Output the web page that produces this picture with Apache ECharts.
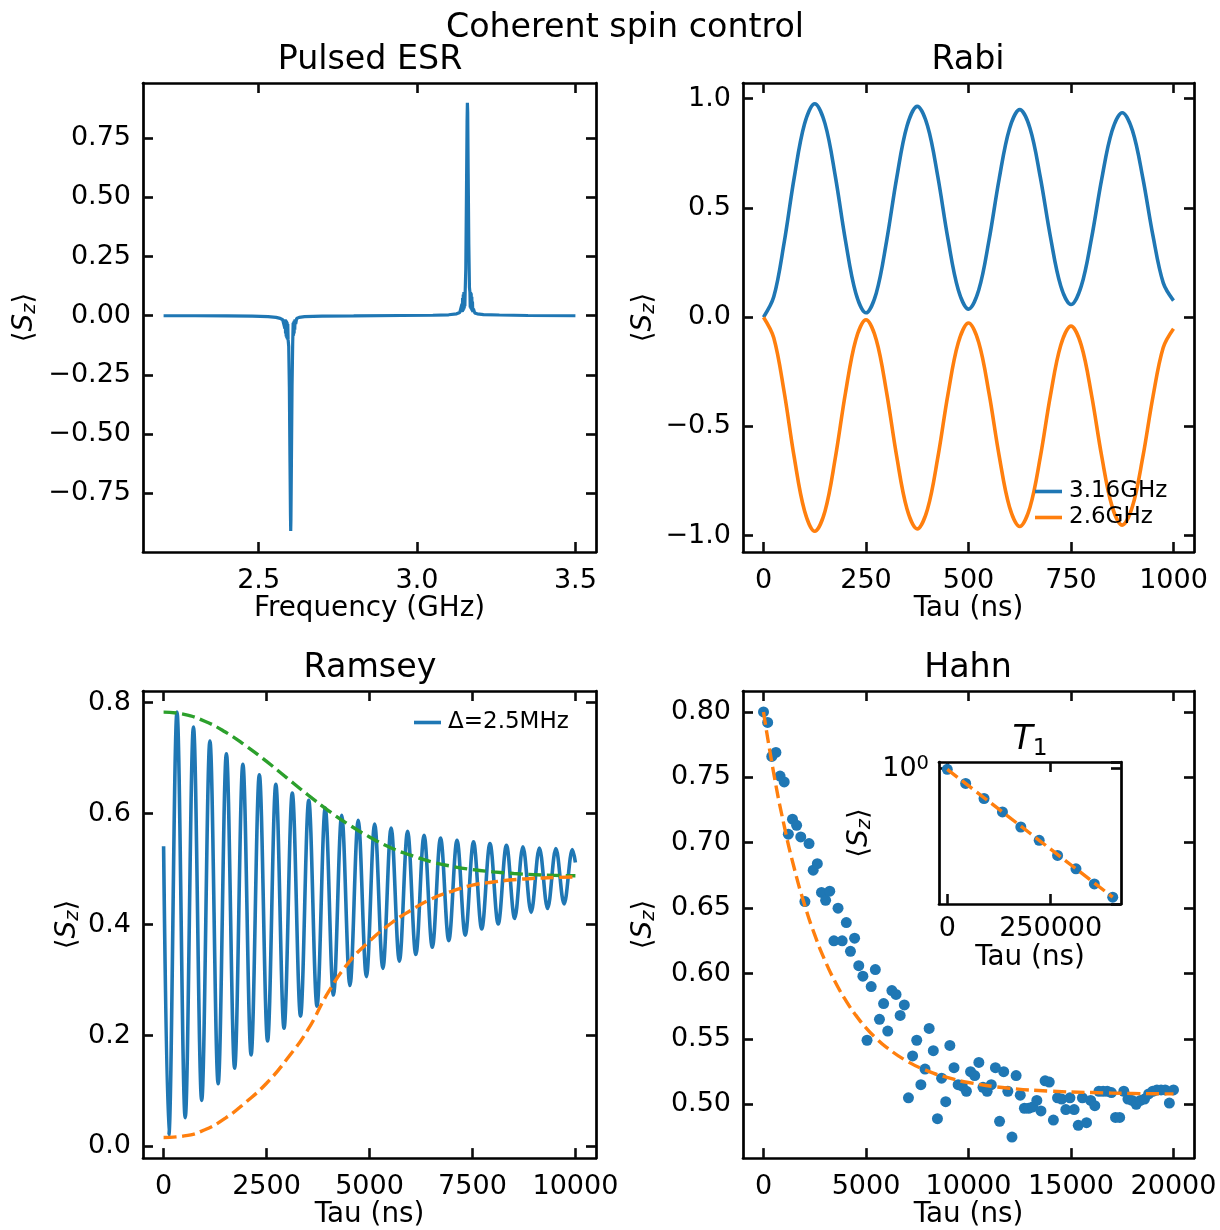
<!DOCTYPE html>
<html>
<head>
<meta charset="utf-8">
<title>Coherent spin control</title>
<script src="https://cdn.jsdelivr.net/npm/echarts@6/dist/echarts.min.js"></script>
<style>
  html, body { margin: 0; padding: 0; background: #fff; }
  #chart { width: 1220px; height: 1230px; }
</style>
</head>
<body>
<div id="chart"></div>
<script>
// ---- Pulsed ESR (frequency sweep) ----
const esrFreq = [2.20, 2.30, 2.40, 2.48, 2.53, 2.555, 2.568, 2.576, 2.581, 2.583, 2.584, 2.585, 2.586, 2.587,
  2.588, 2.589, 2.590, 2.591, 2.592, 2.593, 2.595, 2.597, 2.599, 2.6005, 2.6013, 2.602, 2.6035, 2.6055,
  2.6075, 2.609, 2.610, 2.611, 2.612, 2.613, 2.614, 2.615, 2.617, 2.620, 2.628, 2.645, 2.70, 2.80, 2.95,
  3.05, 3.10, 3.125, 3.135, 3.140, 3.142, 3.143, 3.144, 3.145, 3.146, 3.147, 3.148, 3.149, 3.150, 3.151,
  3.152, 3.154, 3.156, 3.158, 3.159, 3.160, 3.1615, 3.1635, 3.1655, 3.167, 3.168, 3.169, 3.170, 3.171,
  3.172, 3.173, 3.174, 3.175, 3.176, 3.178, 3.182, 3.19, 3.21, 3.26, 3.35, 3.50];
const esrSz = [0, 0, -0.001, -0.002, -0.004, -0.007, -0.011, -0.017, -0.025, -0.055, -0.015, -0.075, -0.018, -0.088,
  -0.022, -0.095, -0.028, -0.1, -0.035, -0.1, -0.13, -0.3, -0.62, -0.84, -0.91, -0.86, -0.62, -0.3,
  -0.12, -0.03, -0.085, -0.025, -0.075, -0.02, -0.06, -0.015, -0.035, -0.012, -0.007, -0.004, -0.002, -0.001, 0.001,
  0.002, 0.004, 0.008, 0.014, 0.02, 0.05, 0.015, 0.075, 0.02, 0.09, 0.025, 0.1, 0.03, 0.1, 0.04,
  0.1, 0.2, 0.5, 0.82, 0.9, 0.86, 0.6, 0.3, 0.12, 0.1, 0.035, 0.1, 0.03, 0.095,
  0.025, 0.08, 0.02, 0.06, 0.015, 0.03, 0.012, 0.008, 0.005, 0.003, 0.001, 0];

// ---- Rabi ----
const rabiTau = [0, 25, 50, 75, 100, 125, 150, 175, 200, 225, 250, 275, 300, 325, 350, 375, 400, 425, 450, 475,
  500, 525, 550, 575, 600, 625, 650, 675, 700, 725, 750, 775, 800, 825, 850, 875, 900, 925, 950, 975, 1000];
const rabi316 = [0, 0.093, 0.337, 0.640, 0.884, 0.977, 0.886, 0.647, 0.350, 0.111, 0.020, 0.110, 0.346, 0.639,
  0.875, 0.965, 0.876, 0.645, 0.357, 0.126, 0.037, 0.124, 0.352, 0.635, 0.863, 0.950, 0.865, 0.642, 0.366,
  0.143, 0.058, 0.142, 0.361, 0.633, 0.852, 0.936, 0.854, 0.639, 0.372, 0.157, 0.076];
const rabi26 = [0, -0.094, -0.338, -0.642, -0.886, -0.980, -0.888, -0.646, -0.346, -0.104, -0.012, -0.103, -0.342,
  -0.639, -0.878, -0.969, -0.879, -0.644, -0.352, -0.117, -0.027, -0.116, -0.348, -0.637, -0.869, -0.958,
  -0.870, -0.642, -0.357, -0.129, -0.041, -0.128, -0.355, -0.638, -0.865, -0.952, -0.866, -0.642, -0.363,
  -0.139, -0.053];

// ---- Ramsey (turning points) ----
const ramseyTau = [0, 125, 325, 525, 725, 925, 1125, 1325, 1525, 1725, 1925, 2125, 2325, 2525, 2725, 2925, 3125,
  3325, 3525, 3725, 3925, 4125, 4325, 4525, 4725, 4925, 5125, 5325, 5525, 5725, 5925, 6125, 6325, 6525,
  6725, 6925, 7125, 7325, 7525, 7725, 7925, 8125, 8325, 8525, 8725, 8925, 9125, 9325, 9525, 9725, 9925, 10000];
const ramseySz = [0.541, 0.019, 0.783, 0.052, 0.756, 0.083, 0.731, 0.113, 0.708, 0.141, 0.689, 0.165, 0.670,
  0.190, 0.653, 0.213, 0.637, 0.235, 0.624, 0.253, 0.610, 0.273, 0.597, 0.290, 0.588, 0.306, 0.581, 0.321,
  0.574, 0.334, 0.568, 0.346, 0.561, 0.359, 0.556, 0.371, 0.552, 0.381, 0.549, 0.392, 0.546, 0.401, 0.543,
  0.411, 0.540, 0.422, 0.538, 0.429, 0.537, 0.437, 0.535, 0.512];
const envTau = [0, 500, 1000, 1500, 2000, 2500, 3000, 3500, 4000, 4500, 5000, 5500, 6000, 6500, 7000, 7500,
  8000, 8500, 9000, 9500, 10000];
const envUpper = [0.783, 0.779, 0.7665, 0.747, 0.722, 0.694, 0.664, 0.634, 0.6055, 0.580, 0.558, 0.539, 0.525,
  0.513, 0.505, 0.499, 0.495, 0.492, 0.490, 0.4887, 0.488];
const envLower = [0.016, 0.019, 0.030, 0.051, 0.080, 0.114, 0.158, 0.210, 0.278, 0.332, 0.370, 0.401, 0.4255,
  0.446, 0.460, 0.471, 0.4767, 0.4808, 0.4834, 0.4848, 0.4858];

// ---- Hahn echo ----
const hahnTau = [0, 202, 404, 606, 808, 1010, 1212, 1414, 1616, 1818, 2020, 2222, 2424, 2626, 2828, 3030, 3232,
  3434, 3636, 3838, 4040, 4242, 4444, 4646, 4848, 5051, 5253, 5455, 5657, 5859, 6061, 6263, 6465, 6667, 6869,
  7071, 7273, 7475, 7677, 7879, 8081, 8283, 8485, 8687, 8889, 9091, 9293, 9495, 9697, 9899, 10101, 10303,
  10505, 10707, 10909, 11111, 11313, 11515, 11717, 11919, 12121, 12323, 12525, 12727, 12929, 13131, 13333,
  13535, 13737, 13939, 14141, 14343, 14545, 14747, 14949, 15152, 15354, 15556, 15758, 15960, 16162, 16364,
  16566, 16768, 16970, 17172, 17374, 17576, 17778, 17980, 18182, 18384, 18586, 18788, 18990, 19192, 19394,
  19596, 19798, 20000];
const hahnSz = [0.800, 0.792, 0.766, 0.769, 0.751, 0.7465, 0.7065, 0.718, 0.7133, 0.7044, 0.655, 0.6994, 0.679,
  0.684, 0.662, 0.656, 0.663, 0.625, 0.650, 0.625, 0.639, 0.617, 0.627, 0.606, 0.598, 0.549, 0.590, 0.603,
  0.565, 0.577, 0.556, 0.587, 0.584, 0.568, 0.576, 0.505, 0.537, 0.549, 0.515, 0.527, 0.558, 0.541, 0.489,
  0.520, 0.502, 0.545, 0.528, 0.515, 0.514, 0.510, 0.525, 0.522, 0.532, 0.513, 0.510, 0.515, 0.528, 0.487,
  0.525, 0.510, 0.475, 0.522, 0.507, 0.497, 0.497, 0.498, 0.503, 0.495, 0.518, 0.517, 0.488, 0.505, 0.504,
  0.496, 0.505, 0.496, 0.484, 0.505, 0.486, 0.503, 0.499, 0.510, 0.510, 0.510, 0.509, 0.490, 0.490, 0.510,
  0.504, 0.503, 0.500, 0.503, 0.504, 0.508, 0.510, 0.511, 0.511, 0.511, 0.501, 0.511];
const hahnFitTau = [0, 500, 1000, 1500, 2000, 2500, 3000, 3500, 4000, 4500, 5000, 5500, 6000, 7000, 8000, 9000,
  10000, 12000, 14000, 16000, 18000, 20000];
const hahnFit = [0.800, 0.753, 0.7136, 0.6805, 0.6528, 0.6295, 0.6099, 0.5935, 0.5798, 0.5682, 0.5585, 0.5504,
  0.5436, 0.533, 0.5256, 0.5204, 0.5167, 0.5123, 0.5101, 0.509, 0.5083, 0.508];

// ---- T1 inset (log scale) ----
const t1Tau = [0, 44444, 88889, 133333, 177778, 222222, 266667, 311111, 355556, 400000];
const t1Sz = [0.9957, 0.913, 0.832, 0.766, 0.698, 0.643, 0.586, 0.5395, 0.4915, 0.453];
const t1FitTau = [0, 200000, 400000];
const t1Fit = [0.9957, 0.6716, 0.453];

// ---- tick positions ----
const esrXTicks = [2.5, 3.0, 3.5];
const esrYTicks = [-0.75, -0.5, -0.25, 0, 0.25, 0.5, 0.75];
const rabiXTicks = [0, 250, 500, 750, 1000];
const rabiYTicks = [-1, -0.5, 0, 0.5, 1];
const ramseyXTicks = [0, 2500, 5000, 7500, 10000];
const ramseyYTicks = [0, 0.2, 0.4, 0.6, 0.8];
const hahnXTicks = [0, 5000, 10000, 15000, 20000];
const hahnYTicks = [0.5, 0.55, 0.6, 0.65, 0.7, 0.75, 0.8];
const t1XTicks = [0, 250000];

const FONT = 'DejaVu Sans';
const BLUE = '#1f77b4', ORANGE = '#ff7f0e', GREEN = '#2ca02c';
const SPINE = 2.7;
const DASH = [13, 5.6];
// one tick stroke per side, each a hair different so they are not drawn as one batch
const TICK = {
  bottom: { color: '#0d0d0d', width: 2.6 },
  top: { color: '#0c0c0c', width: 2.62 },
  left: { color: '#0b0b0b', width: 2.64 },
  right: { color: '#0a0a0a', width: 2.66 }
};

const zip = (xs, ys) => xs.map((x, i) => [x, ys[i]]);
const minus = s => s.replace('-', '\u2212');
const fixed = d => v => minus(v.toFixed(d));

const szName = '{a|\u27e8}{s|S}{z|z}{a|\u27e9}';
const szRich = {
  a: { fontFamily: FONT, fontSize: 27.8, color: '#000' },
  s: { fontFamily: FONT, fontSize: 27.8, fontStyle: 'italic', color: '#000' },
  z: { fontFamily: FONT, fontSize: 19.5, fontStyle: 'italic', color: '#000', padding: [10, 0, 0, 0] }
};

const grids = [
  { left: 143, top: 83, width: 453, height: 469 },
  { left: 743, top: 83, width: 451, height: 469 },
  { left: 143, top: 691, width: 453, height: 469 },
  { left: 743, top: 691, width: 451, height: 469 },
  { left: 939, top: 762, width: 182, height: 142 }
];

const spine = { show: true, onZero: false, lineStyle: { color: '#000', width: SPINE } };
function ticks(vals, side) {
  return { show: true, inside: true, length: 10, customValues: vals, lineStyle: TICK[side] };
}
function labelStyle(vals, fmt, margin) {
  return { customValues: vals, formatter: fmt, margin: margin, fontFamily: FONT, fontSize: 27, color: '#000' };
}
function xPair(g, min, max, vals, fmt, name, gap, margin) {
  return [
    { type: 'value', gridIndex: g, position: 'bottom', min, max, axisLine: spine, splitLine: { show: false },
      axisTick: ticks(vals, 'bottom'), axisLabel: labelStyle(vals, fmt, margin), name, nameLocation: 'middle',
      nameGap: gap, nameTextStyle: { fontFamily: FONT, fontSize: 27.8, color: '#000' } },
    { type: 'value', gridIndex: g, position: 'top', min, max, axisLine: spine, splitLine: { show: false },
      axisTick: ticks(vals, 'top'), axisLabel: { show: false } }
  ];
}
function yPair(g, min, max, vals, fmt, gap) {
  return [
    { type: 'value', gridIndex: g, position: 'left', min, max, axisLine: spine, splitLine: { show: false },
      axisTick: ticks(vals, 'left'), axisLabel: labelStyle(vals, fmt, 12), name: szName, nameLocation: 'middle',
      nameGap: gap, nameTextStyle: { rich: szRich } },
    { type: 'value', gridIndex: g, position: 'right', min, max, axisLine: spine, splitLine: { show: false },
      axisTick: ticks(vals, 'right'), axisLabel: { show: false } }
  ];
}

const xAxis = [].concat(
  xPair(0, 2.135, 3.565, esrXTicks, fixed(1), 'Frequency (GHz)', 38, 15),
  xPair(1, -50, 1050, rabiXTicks, v => String(v), 'Tau (ns)', 38, 15),
  xPair(2, -500, 10500, ramseyXTicks, v => String(v), 'Tau (ns)', 38, 15),
  xPair(3, -1000, 21000, hahnXTicks, v => String(v), 'Tau (ns)', 38, 15),
  xPair(4, -20000, 420000, t1XTicks, v => String(v), 'Tau (ns)', 40, 11)
);

const isOne = v => Math.abs(v - 1) < 1e-6 || Math.abs(v) < 1e-9;
const logTick = side => ({ show: true, inside: true, length: 10, lineStyle: TICK[side],
  interval: (i, v) => isOne(v) });
const yAxis = [].concat(
  yPair(0, -0.999, 0.984, esrYTicks, fixed(2), 103),
  yPair(1, -1.075, 1.072, rabiYTicks, fixed(1), 84),
  yPair(2, -0.021, 0.821, ramseyYTicks, fixed(1), 60),
  yPair(3, 0.4589, 0.8160, hahnYTicks, fixed(2), 84),
  [
    { type: 'log', gridIndex: 4, position: 'left', min: 0.4344, max: 1.0417, axisLine: spine,
      splitLine: { show: false }, minorTick: { show: false }, axisTick: logTick('left'),
      axisLabel: { formatter: v => isOne(v) ? '{b|10}{e|0}' : '', margin: 10, showMinLabel: false, showMaxLabel: false,
        rich: { b: { fontFamily: FONT, fontSize: 27, color: '#000' },
                e: { fontFamily: FONT, fontSize: 19.5, color: '#000', padding: [0, 0, 10, 0] } } },
      name: szName, nameLocation: 'middle', nameGap: 64, nameTextStyle: { rich: szRich } },
    { type: 'log', gridIndex: 4, position: 'right', min: 0.4344, max: 1.0417, axisLine: spine,
      splitLine: { show: false }, minorTick: { show: false }, axisTick: logTick('right'), axisLabel: { show: false } }
  ]
);

function line(name, xi, data, color, extra) {
  return Object.assign({ type: 'line', name, xAxisIndex: xi, yAxisIndex: xi, data, symbol: 'none',
    lineStyle: { color, width: 3.6 }, itemStyle: { color }, silent: true }, extra || {});
}
function dashed(xi, data, color, extra) {
  return Object.assign({ type: 'line', xAxisIndex: xi, yAxisIndex: xi, data, symbol: 'none', smooth: true,
    lineStyle: { color, width: 3.4, type: DASH }, itemStyle: { color }, silent: true }, extra || {});
}
function dots(xi, data, extra) {
  return Object.assign({ type: 'scatter', xAxisIndex: xi, yAxisIndex: xi, data, symbolSize: 11,
    itemStyle: { color: BLUE, opacity: 1 }, silent: true }, extra || {});
}

const series = [
  line('esr', 0, zip(esrFreq, esrSz), BLUE, { lineStyle: { color: BLUE, width: 3.2 } }),
  line('3.16GHz', 2, zip(rabiTau, rabi316), BLUE, { smooth: 0.35 }),
  line('2.6GHz', 2, zip(rabiTau, rabi26), ORANGE, { smooth: 0.35 }),
  line('\u0394=2.5MHz', 4, zip(ramseyTau, ramseySz), BLUE, { smooth: 0.36, smoothMonotone: 'x' }),
  dashed(4, zip(envTau, envUpper), GREEN),
  dashed(4, zip(envTau, envLower), ORANGE),
  dots(6, zip(hahnTau, hahnSz)),
  dashed(6, zip(hahnFitTau, hahnFit), ORANGE),
  dots(8, zip(t1Tau, t1Sz)),
  dashed(8, zip(t1FitTau, t1Fit), ORANGE, { smooth: false })
];

const legendBase = { orient: 'vertical', padding: 0, itemGap: 3, itemWidth: 27, itemHeight: 3.6, icon: 'rect',
  selectedMode: false, textStyle: { fontFamily: FONT, fontSize: 23, color: '#000', padding: [0, 0, 0, 2] } };

const titleText = (txt, x, y) => ({ type: 'text', x, y, z: 100, silent: true,
  style: { text: txt, fontFamily: FONT, fontSize: 33.3, fill: '#000', align: 'center', verticalAlign: 'middle' } });

const chart = echarts.init(document.getElementById('chart'));
chart.setOption({
  animation: false,
  backgroundColor: '#fff',
  grid: grids,
  xAxis,
  yAxis,
  series,
  legend: [
    Object.assign({}, legendBase, { data: ['3.16GHz', '2.6GHz'], left: 1035, top: 480 }),
    Object.assign({}, legendBase, { data: ['\u0394=2.5MHz'], left: 414, top: 711 })
  ],
  graphic: [
    titleText('Coherent spin control', 625, 28),
    titleText('Pulsed ESR', 370, 60),
    titleText('Rabi', 968, 60),
    titleText('Ramsey', 370, 668),
    titleText('Hahn', 968, 668),
    { type: 'text', x: 1030, y: 740, z: 100, silent: true,
      style: { text: '{t|T}{s|1}', align: 'center', verticalAlign: 'middle',
        rich: { t: { fontFamily: FONT, fontSize: 33.3, fontStyle: 'italic', fill: '#000' },
                s: { fontFamily: FONT, fontSize: 23.3, fill: '#000', padding: [17, 0, 0, 0] } } } }
  ]
});
</script>
</body>
</html>
